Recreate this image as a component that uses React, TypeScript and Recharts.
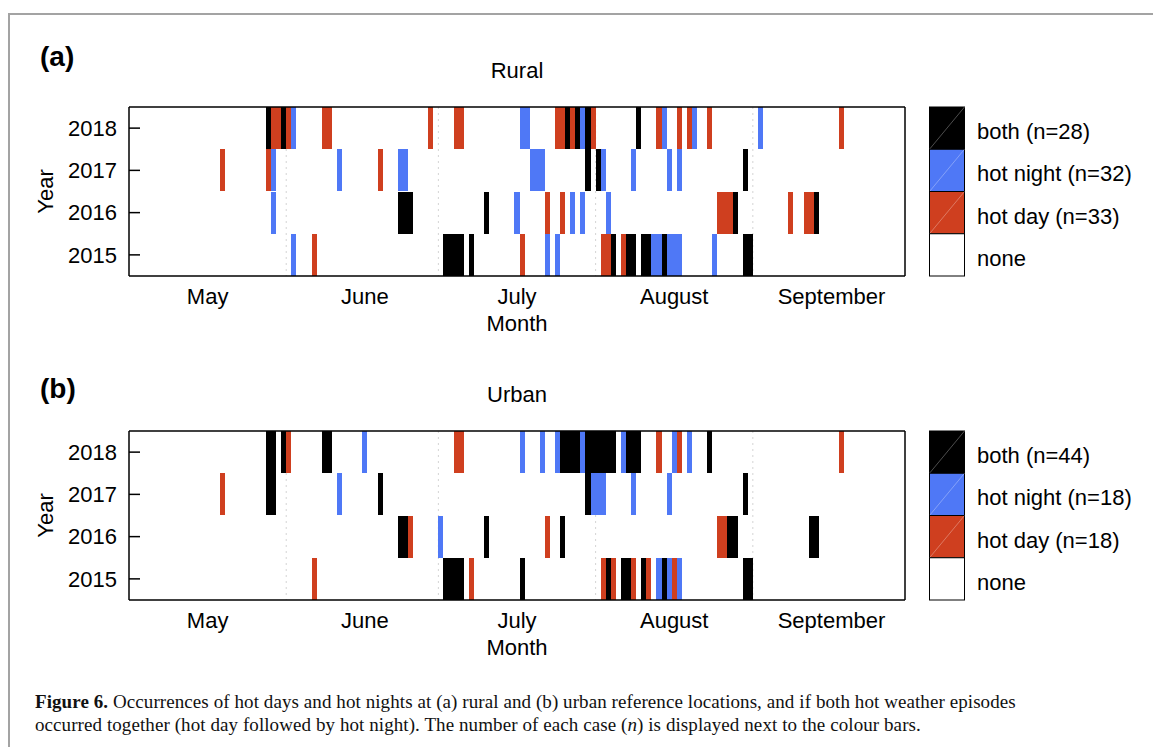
import { BarChart, Bar, XAxis, YAxis, Cell, CartesianGrid } from "recharts";

const YEARS = ["2018", "2017", "2016", "2015"];
const MONTHS = ["May", "June", "July", "August", "September"];
const MONTH_LENGTHS = [31, 30, 31, 31, 30];

// day index counted from 1 May (0 = 1 May), one list per year in YEARS order
const RURAL_BOTH = [
  [27, 30, 86, 88, 90, 100],
  [90, 92, 121],
  [53, 54, 55, 70, 119, 135],
  [62, 63, 64, 65, 67, 95, 98, 99, 101, 102, 105, 121, 122],
];
const RURAL_NIGHT = [
  [32, 77, 78, 89, 105, 111, 124],
  [28, 41, 53, 54, 79, 80, 81, 93, 99, 106, 108],
  [28, 76, 87, 89, 94],
  [32, 82, 84, 103, 104, 106, 107, 108, 115],
];
const RURAL_DAY = [
  [28, 29, 31, 38, 39, 59, 64, 65, 84, 85, 87, 91, 104, 108, 110, 114, 140],
  [18, 27, 49],
  [82, 85, 116, 117, 118, 130, 133, 134],
  [36, 77, 93, 94, 97],
];

const URBAN_BOTH = [
  [27, 28, 30, 38, 39, 85, 86, 87, 88, 90, 91, 92, 93, 94, 95, 98, 99, 100, 114],
  [27, 28, 49, 90, 121],
  [53, 54, 70, 85, 118, 119, 134, 135],
  [62, 63, 64, 65, 77, 94, 97, 98, 101, 105, 121, 122],
];
const URBAN_NIGHT = [
  [46, 77, 81, 84, 89, 97, 107, 110],
  [41, 91, 92, 93, 99, 106],
  [61],
  [104, 106, 108],
];
const URBAN_DAY = [
  [31, 64, 65, 104, 108, 140],
  [18],
  [55, 82, 116, 117],
  [36, 67, 93, 95, 99, 102, 107],
];

const BLACK = "#000000";
const BLUE = "#4f78f6";
const RED = "#cf3f1f";
const FONT = "'Liberation Sans', Arial, Helvetica, sans-serif";

const DAYS = MONTH_LENGTHS.reduce((a, b) => a + b, 0);
const MONTH_STARTS = MONTH_LENGTHS.map((_, i) =>
  MONTH_LENGTHS.slice(0, i).reduce((a, b) => a + b, 0)
);
// month names sit on the 16th of each month
const MONTH_MID = MONTH_STARTS.map((s) => s + 15.5);
const DAY_KEYS = Array.from({ length: DAYS }, (_, i) => `d${i}`);
const ROWS = YEARS.map((year) => {
  const row: Record<string, string | number> = { year };
  DAY_KEYS.forEach((k) => (row[k] = 1));
  return row;
});

const count = (lists: number[][]) => lists.reduce((n, l) => n + l.length, 0);

type PanelProps = {
  top: number;
  tag: string;
  tagTop: number;
  title: string;
  both: number[][];
  night: number[][];
  day: number[][];
};

function Panel({ top, tag, tagTop, title, both, night, day }: PanelProps) {
  const colorOf = (yi: number, d: number) => {
    if (both[yi].includes(d)) return BLACK;
    if (night[yi].includes(d)) return BLUE;
    if (day[yi].includes(d)) return RED;
    return "none";
  };

  const legend = [
    { label: `both (n=${count(both)})`, color: BLACK },
    { label: `hot night (n=${count(night)})`, color: BLUE },
    { label: `hot day (n=${count(day)})`, color: RED },
    { label: "none", color: "#ffffff" },
  ];

  return (
    <>
      <div
        style={{
          position: "absolute",
          left: 40,
          top: tagTop,
          fontFamily: FONT,
          fontWeight: "bold",
          fontSize: 28,
          lineHeight: "28px",
        }}
      >
        {tag}
      </div>
      <div
        style={{
          position: "absolute",
          left: 129,
          width: 776,
          top: top - 49,
          textAlign: "center",
          fontFamily: FONT,
          fontSize: 22,
          lineHeight: "26px",
        }}
      >
        {title}
      </div>
      <div style={{ position: "absolute", left: 0, top: top - 20 }}>
        <BarChart
          width={920}
          height={250}
          data={ROWS}
          layout="vertical"
          margin={{ top: 19, right: 14, bottom: 0, left: 0 }}
          barCategoryGap={0}
          barGap={0}
          style={{ fontFamily: FONT }}
        >
          <CartesianGrid
            xAxisId="bottom"
            yAxisId="left"
            horizontal={false}
            verticalValues={MONTH_STARTS.slice(1)}
            stroke="#d4d4d4"
            strokeDasharray="2 4"
          />
          <XAxis
            xAxisId="bottom"
            type="number"
            domain={[0, DAYS]}
            allowDataOverflow
            ticks={MONTH_MID}
            interval={0}
            tickFormatter={(v: number) => MONTHS[MONTH_MID.indexOf(v)]}
            tickLine={false}
            tickSize={0}
            tickMargin={12}
            height={61}
            axisLine={{ stroke: "#000", strokeWidth: 1.5 }}
            tick={{ fill: "#000", fontSize: 22 }}
            label={{
              value: "Month",
              position: "insideBottom",
              offset: 6,
              fill: "#000",
              fontSize: 22,
            }}
          />
          <XAxis
            xAxisId="top"
            orientation="top"
            type="number"
            domain={[0, DAYS]}
            allowDataOverflow
            tick={false}
            tickLine={false}
            height={1}
            axisLine={{ stroke: "#000", strokeWidth: 1.5 }}
          />
          <YAxis
            yAxisId="left"
            type="category"
            dataKey="year"
            width={129}
            tickSize={-11}
            tickMargin={23}
            axisLine={{ stroke: "#000", strokeWidth: 1.5 }}
            tickLine={{ stroke: "#000", strokeWidth: 1.5 }}
            tick={{ fill: "#000", fontSize: 22 }}
            label={{
              value: "Year",
              angle: -90,
              position: "insideLeft",
              offset: 45,
              fill: "#000",
              fontSize: 22,
              style: { textAnchor: "middle" },
            }}
          />
          <YAxis
            yAxisId="right"
            orientation="right"
            type="category"
            dataKey="year"
            ticks={YEARS}
            width={1}
            tick={false}
            tickSize={-11}
            axisLine={{ stroke: "#000", strokeWidth: 1.5 }}
            tickLine={{ stroke: "#000", strokeWidth: 1.5 }}
          />
          {DAY_KEYS.map((k, d) => (
            <Bar
              key={k}
              dataKey={k}
              xAxisId="bottom"
              yAxisId="left"
              stackId="s"
              isAnimationActive={false}
            >
              {YEARS.map((y, yi) => (
                <Cell key={y} fill={colorOf(yi, d)} shapeRendering="crispEdges" />
              ))}
            </Bar>
          ))}
        </BarChart>
      </div>
      <svg
        style={{ position: "absolute", left: 928, top: top - 1 }}
        width={40}
        height={172}
      >
        {legend.map((l, i) => (
          <g key={l.label}>
            <rect
              x={1.5}
              y={1 + i * 42.25}
              width={35}
              height={42.25}
              fill={l.color}
              stroke="#000"
              strokeWidth={1}
            />
            {i < 3 && (
              <line
                x1={1.5}
                y1={1 + (i + 1) * 42.25}
                x2={36.5}
                y2={1 + i * 42.25}
                stroke="#ffffff"
                strokeOpacity={0.3}
              />
            )}
          </g>
        ))}
      </svg>
      {legend.map((l, i) => (
        <div
          key={l.label}
          style={{
            position: "absolute",
            left: 977,
            top: top + i * 42.25 + 10,
            fontFamily: FONT,
            fontSize: 22,
            lineHeight: "30px",
            whiteSpace: "nowrap",
          }}
        >
          {l.label}
        </div>
      ))}
    </>
  );
}

export default function App() {
  return (
    <div
      style={{
        position: "absolute",
        left: 0,
        top: 0,
        width: 1153,
        height: 747,
        background: "#fff",
        overflow: "hidden",
      }}
    >
      <div
        style={{
          position: "absolute",
          left: 8,
          top: 13,
          width: 1200,
          height: 800,
          borderTop: "2px solid #a3a3a3",
          borderLeft: "2px solid #a3a3a3",
        }}
      />
      <Panel
        top={107}
        tag="(a)"
        tagTop={43}
        title="Rural"
        both={RURAL_BOTH}
        night={RURAL_NIGHT}
        day={RURAL_DAY}
      />
      <Panel
        top={431}
        tag="(b)"
        tagTop={375}
        title="Urban"
        both={URBAN_BOTH}
        night={URBAN_NIGHT}
        day={URBAN_DAY}
      />
      <div
        style={{
          position: "absolute",
          left: 35,
          top: 690,
          fontFamily: "'Liberation Serif', 'Times New Roman', serif",
          fontSize: 19,
          lineHeight: "23px",
          letterSpacing: 0.08,
          whiteSpace: "nowrap",
          color: "#111",
        }}
      >
        <b>Figure 6.</b> Occurrences of hot days and hot nights at (a) rural and (b) urban
        reference locations, and if both hot weather episodes
        <br />
        occurred together (hot day followed by hot night). The number of each case (
        <i>n</i>) is displayed next to the colour bars.
      </div>
    </div>
  );
}
